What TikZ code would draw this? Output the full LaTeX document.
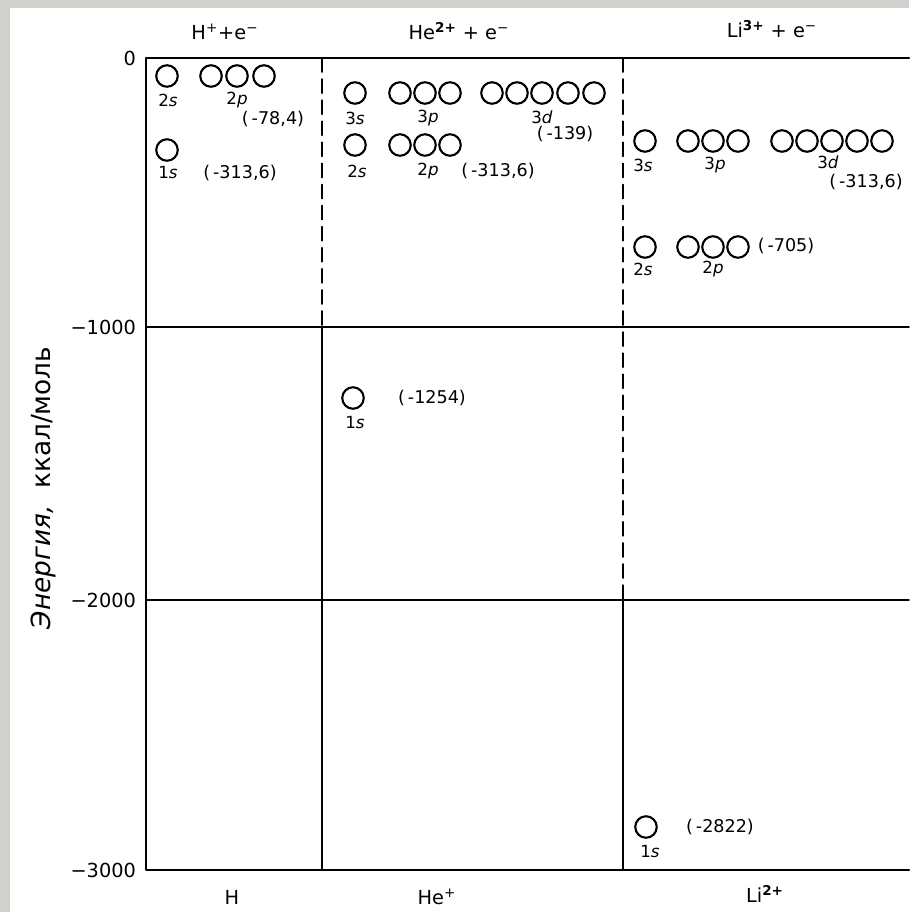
\documentclass[tikz,border=0pt]{standalone}
\usepackage{fontspec}
\setmainfont{DejaVu Sans}
\usetikzlibrary{positioning}
\definecolor{scangray}{RGB}{208,208,204}

\begin{document}
\begin{tikzpicture}[x=0.02cm, y=-0.02cm, line cap=round, line join=round,
    orb/.style={circle, draw, line width=1.2pt, minimum size=0.43cm, inner sep=0pt},
    orblbl/.style={font=\fontsize{9.5}{10}\selectfont, inner sep=1pt},
    enlbl/.style={font=\fontsize{10}{11}\selectfont, inner sep=1pt},
    ticklbl/.style={font=\fontsize{11}{13}\selectfont, anchor=east, inner sep=1pt},
    head/.style={font=\fontsize{11}{13}\selectfont},
    frame/.style={line width=1.2pt},
    gridln/.style={line width=0.9pt}]

  % --- scan margin and bounding box ---
  \fill[scangray] (0,0) rectangle (909,8);
  \fill[scangray] (0,0) rectangle (10,912);
  \useasboundingbox (0,0) rectangle (909,912);

  % --- frame and energy grid ---
  \draw[frame] (909,58) -- (146,58) -- (146,870) -- (909,870);
  \draw[gridln] (146,327) -- (909,327);
  \draw[gridln] (146,600) -- (909,600);
  \draw[gridln, dash pattern=on 8pt off 4pt] (322,58) -- (322,327);
  \draw[gridln] (322,327) -- (322,870);
  \draw[gridln, dash pattern=on 8pt off 4pt] (623,58) -- (623,600);
  \draw[gridln] (623,600) -- (623,870);

  % --- energy axis ---
  \foreach \nm/\txt/\y in {t0/0/58, t1/−1000/327, t2/−2000/600, t3/−3000/870}
    \node[ticklbl] (\nm) at (138,\y) {\txt};
  \node[rotate=90, font=\fontsize{15}{17}\selectfont] (ylabel) at (43,488)
       {\textit{Энергия,}~\ ккал/моль};

  % --- column headers ---
  \node[head] (hH)  at (225,32) {H\textsuperscript{+}+e\textsuperscript{−}};
  \node[head] (hHe) at (459,31) {He\textsuperscript{\textbf{2+}} + e\textsuperscript{−}};
  \node[head] (hLi) at (772,29) {Li\textsuperscript{\textbf{3+}} + e\textsuperscript{−}};
  \node[head] (fH)  at (232,897) {H};
  \node[head] (fHe) at (437,897) {He\textsuperscript{+}};
  \node[head] (fLi) at (765,894) {Li\textsuperscript{\textbf{2+}}};

  % --- H ---
  \node[orb] (H2s) at (167,76) {};
  \foreach \i/\x in {1/211, 2/237, 3/264}
    \node[orb] (H2p\i) at (\x,76) {};
  \node[orblbl] (H2sl) at (168,100) {2\textit{s}};
  \node[orblbl] (H2pl) at (237,100) {2\textit{p}};
  \node[enlbl] (H2e) at (273,119) {(\,-78,4)};
  \node[orb] (H1s) at (167,150) {};
  \node[orblbl] (H1sl) at (168,173) {1\textit{s}};
  \node[enlbl] (H1e) at (240,173) {(\,-313,6)};

  % --- He+ ---
  \node[orb] (He3s) at (355,93) {};
  \foreach \i/\x in {1/400, 2/425, 3/450}
    \node[orb] (He3p\i) at (\x,93) {};
  \foreach \i/\x in {1/492, 2/517, 3/542, 4/568, 5/594}
    \node[orb] (He3d\i) at (\x,93) {};
  \node[orblbl] (He3sl) at (355,118) {3\textit{s}};
  \node[orblbl] (He3pl) at (428,118) {3\textit{p}};
  \node[orblbl] (He3dl) at (542,117) {3\textit{d}};
  \node[enlbl] (He3e) at (565,134) {(\,-139)};
  \node[orb] (He2s) at (355,145) {};
  \foreach \i/\x in {1/400, 2/425, 3/450}
    \node[orb] (He2p\i) at (\x,145) {};
  \node[orblbl] (He2sl) at (357,171) {2\textit{s}};
  \node[orblbl] (He2pl) at (428,171) {2\textit{p}};
  \node[enlbl] (He2e) at (498,171) {(\,-313,6)};
  \node[orb] (He1s) at (353,398) {};
  \node[orblbl] (He1sl) at (355,423) {1\textit{s}};
  \node[enlbl] (He1e) at (432,398) {(\,-1254)};

  % --- Li2+ ---
  \node[orb] (Li3s) at (645,141) {};
  \foreach \i/\x in {1/688, 2/713, 3/738}
    \node[orb] (Li3p\i) at (\x,141) {};
  \foreach \i/\x in {1/782, 2/807, 3/832, 4/857, 5/882}
    \node[orb] (Li3d\i) at (\x,141) {};
  \node[orblbl] (Li3sl) at (643,165) {3\textit{s}};
  \node[orblbl] (Li3pl) at (715,165) {3\textit{p}};
  \node[orblbl] (Li3dl) at (828,162) {3\textit{d}};
  \node[enlbl] (Li3e) at (866,182) {(\,-313,6)};
  \node[orb] (Li2s) at (645,247) {};
  \foreach \i/\x in {1/688, 2/713, 3/738}
    \node[orb] (Li2p\i) at (\x,247) {};
  \node[orblbl] (Li2sl) at (643,269) {2\textit{s}};
  \node[orblbl] (Li2pl) at (713,269) {2\textit{p}};
  \node[enlbl] (Li2e) at (786,246) {(\,-705)};
  \node[orb] (Li1s) at (646,827) {};
  \node[orblbl] (Li1sl) at (650,852) {1\textit{s}};
  \node[enlbl] (Li1e) at (720,827) {(\,-2822)};
\end{tikzpicture}
\end{document}
